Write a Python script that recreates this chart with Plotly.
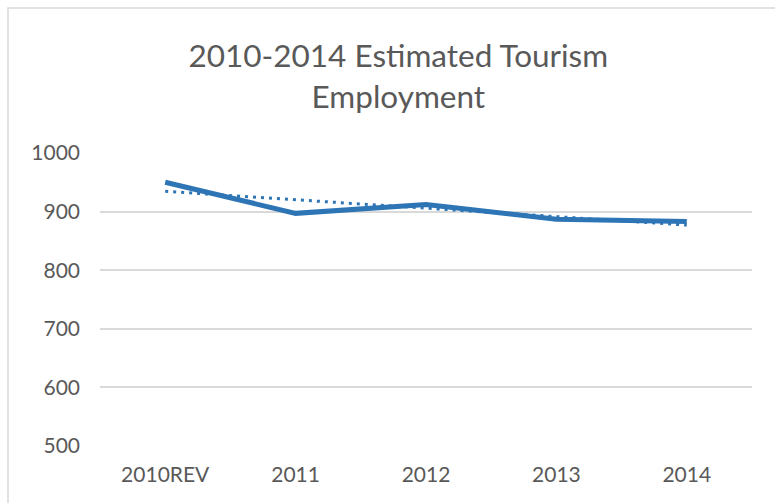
import numpy as np
import plotly.graph_objects as go

# Estimated tourism employment by year
years = ["2010REV", "2011", "2012", "2013", "2014"]
employment = [950, 897, 912, 887, 883]

# Linear trendline fitted to the series
idx = np.arange(len(employment))
slope, intercept = np.polyfit(idx, employment, 1)
trend = (slope * idx + intercept).tolist()

BLUE = "#2E75B6"
GREY_TEXT = "#595959"
FONT = "Lato"

fig = go.Figure()
fig.add_trace(go.Scatter(
    x=years, y=employment, mode="lines",
    line=dict(color=BLUE, width=5),
    hoverinfo="x+y", showlegend=False,
))
fig.add_trace(go.Scatter(
    x=years, y=trend, mode="lines",
    line=dict(color=BLUE, width=3, dash="3px,5px"),
    hoverinfo="skip", showlegend=False,
))

fig.update_layout(
    width=775, height=503,
    margin=dict(l=100, r=23, t=153, b=57),
    paper_bgcolor="white", plot_bgcolor="white",
    font=dict(family=FONT, color=GREY_TEXT, size=21),
    title=dict(
        text="2010-2014 Estimated Tourism<br>Employment",
        font=dict(family=FONT, size=31.5, color=GREY_TEXT),
        x=0.514, xanchor="center", y=1 - 67 / 503, yanchor="middle",
    ),
    xaxis=dict(
        type="category", range=[-0.5, 4.5],
        showgrid=False, showline=False, zeroline=False,
        ticks="", ticklabelstandoff=14,
        tickfont=dict(size=21, color=GREY_TEXT),
    ),
    yaxis=dict(
        range=[500, 1000], dtick=100, showgrid=True,
        gridcolor="#D9D9D9", gridwidth=1.5, zeroline=False, showline=False,
        ticks="", ticklabelstandoff=19,
        tickfont=dict(size=21, color=GREY_TEXT),
    ),
    shapes=[dict(
        type="rect", xref="paper", yref="paper",
        x0=-92 / 652, x1=1.2, y0=-0.5, y1=1 + 145 / 293,
        line=dict(color="#D9D9D9", width=1.5), fillcolor="rgba(0,0,0,0)",
        layer="below",
    )],
)

fig.write_html("out.html")
